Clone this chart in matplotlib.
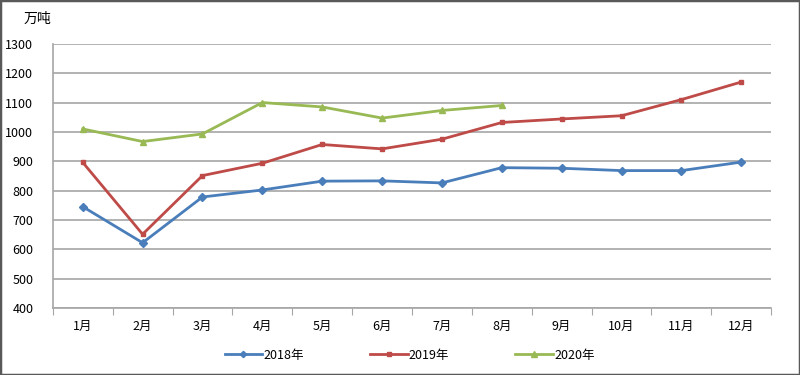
import matplotlib
matplotlib.use("Agg")
import matplotlib.pyplot as plt
from matplotlib.patches import Rectangle

plt.rcParams['font.family'] = ['Noto Sans CJK SC', 'DejaVu Sans']

months = ['1月', '2月', '3月', '4月', '5月', '6月', '7月', '8月', '9月', '10月', '11月', '12月']
y2018 = [745, 622, 778, 802, 832, 833, 826, 878, 876, 868, 868, 897]
y2019 = [896, 651, 851, 893, 957, 942, 975, 1032, 1044, 1055, 1110, 1170]
y2020 = [1010, 967, 993, 1100, 1085, 1047, 1073, 1090]
yticks = list(range(400, 1301, 100))

fig = plt.figure(figsize=(8, 3.75), dpi=100)
ax = fig.add_axes([0.066, 0.179, 0.898, 0.704])

x = list(range(len(months)))
ax.plot(x, y2018, color='#4A7EBB', lw=2, marker='D', ms=4, label='2018年')
ax.plot(x, y2019, color='#BE4B48', lw=2, marker='s', ms=3, label='2019年')
ax.plot(x[:len(y2020)], y2020, color='#98B954', lw=2, marker='^', ms=5, label='2020年')

ax.set_xlim(-0.5, len(months) - 0.5)
ax.set_ylim(400, 1300)
ax.set_yticks(yticks)
ax.set_yticklabels([str(v) for v in yticks], fontsize=9)
ax.yaxis.grid(True, color='#A6A6A6', lw=1.2)
ax.set_axisbelow(True)
ax.tick_params(axis='y', length=0, pad=14)

# category boundaries as ticks, labels centered
ax.set_xticks([i + 0.5 for i in range(-1, len(months))])
ax.set_xticklabels([])
ax.set_xticks(x, minor=True)
ax.set_xticklabels(months, minor=True, fontsize=9)
ax.tick_params(axis='x', which='major', length=5, color='#A6A6A6', direction='out')
ax.tick_params(axis='x', which='minor', length=0, pad=9)

for s in ['top', 'right']:
    ax.spines[s].set_visible(False)
for s in ['left', 'bottom']:
    ax.spines[s].set_color('#A6A6A6')
    ax.spines[s].set_linewidth(1.2)

fig.text(0.03, 0.95, '万吨', fontsize=10, va='center')

fig.legend(loc='center', bbox_to_anchor=(0.512, 0.053), ncol=3, frameon=False,
           fontsize=9, columnspacing=5.3, handlelength=3, handletextpad=0.1,
           markerscale=0.8)

fig.patches.append(Rectangle((0, 0), 1, 1, transform=fig.transFigure,
                             fill=False, edgecolor='#595959', lw=2.5))

fig.savefig('out.png', dpi=100)
